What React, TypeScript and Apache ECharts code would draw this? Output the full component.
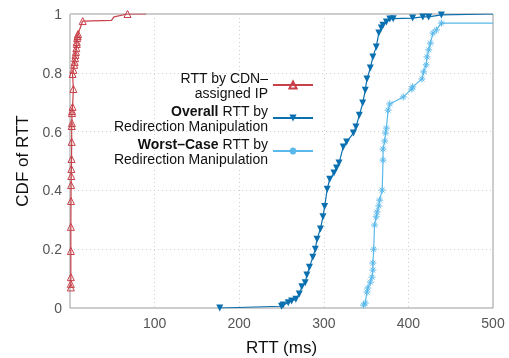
import React, { useEffect, useRef } from "react";
import * as echarts from "echarts";

// [RTT ms, CDF, hasMarker]
const cdnX = [1, 1, 1, 1, 1, 1.2, 1.3, 1.5, 1.6, 1.8, 2, 2, 2.2, 2.3, 2.5, 3, 4, 3, 4, 5, 5.5, 6, 6.5, 7, 7.5, 8, 8, 8.5, 9, 9.5, 15, 49, 52, 68, 90];
const cdnY = [0.07, 0.082, 0.105, 0.194, 0.276, 0.364, 0.418, 0.449, 0.473, 0.507, 0.565, 0.619, 0.629, 0.663, 0.67, 0.684, 0.745, 0.796, 0.81, 0.827, 0.837, 0.85, 0.861, 0.871, 0.884, 0.898, 0.905, 0.918, 0.925, 0.932, 0.976, 0.978, 0.99, 1.0, 1.0];
const cdnMark = [1, 1, 1, 1, 1, 1, 1, 1, 1, 1, 1, 1, 1, 1, 1, 1, 1, 1, 1, 1, 1, 1, 1, 1, 1, 1, 1, 1, 1, 1, 1, 0, 0, 1, 0];

const overallX = [177, 250, 252, 258, 262, 267, 271, 274, 278, 280, 283, 287, 290, 292, 296, 299, 301, 304, 307, 312, 315, 318, 323, 327, 335, 338, 342, 346, 349, 351, 355, 358, 362, 365, 368, 370, 374, 378, 382, 405, 417, 424, 439, 500];
const overallY = [0, 0.006, 0.01, 0.018, 0.024, 0.03, 0.048, 0.072, 0.086, 0.112, 0.139, 0.173, 0.2, 0.234, 0.269, 0.31, 0.345, 0.404, 0.438, 0.459, 0.476, 0.493, 0.548, 0.565, 0.595, 0.616, 0.656, 0.697, 0.741, 0.779, 0.816, 0.854, 0.888, 0.935, 0.952, 0.962, 0.973, 0.983, 0.984, 0.986, 0.99, 0.99, 0.997, 1.0];
const overallMark = [1, 1, 1, 1, 1, 1, 1, 1, 1, 1, 1, 1, 1, 1, 1, 1, 1, 1, 1, 1, 1, 1, 1, 1, 1, 1, 1, 1, 1, 1, 1, 1, 1, 1, 1, 1, 1, 1, 1, 1, 1, 1, 1, 0];

const worstX = [347, 349, 351, 352, 355, 357, 358, 358, 359, 360, 362, 363, 365, 366, 369, 370, 370, 372, 373, 374, 376, 378, 394, 404, 405, 416, 418, 421, 422, 424, 426, 429, 433, 439, 500];
const worstY = [0.01, 0.017, 0.054, 0.068, 0.088, 0.105, 0.129, 0.153, 0.2, 0.282, 0.31, 0.327, 0.347, 0.367, 0.401, 0.503, 0.541, 0.568, 0.595, 0.612, 0.673, 0.694, 0.718, 0.745, 0.752, 0.779, 0.803, 0.827, 0.854, 0.878, 0.901, 0.935, 0.946, 0.969, 0.969];
const worstMark = [1, 1, 1, 1, 1, 1, 1, 1, 1, 1, 1, 1, 1, 1, 1, 1, 1, 1, 1, 1, 1, 1, 1, 1, 1, 1, 1, 1, 1, 1, 1, 1, 1, 1, 0];

const RED = "#c8414a";
const DARK = "#0b70b0";
const LIGHT = "#5ab8ea";
const FONT = "Liberation Sans, Arial, sans-serif";

const ASTERISK = "path://M0,5L10,5M5,0L5,10M1.5,1.5L8.5,8.5M8.5,1.5L1.5,8.5";

function build(xs: number[], ys: number[], marks: number[]) {
  return xs.map((x, i) =>
    marks[i] ? { value: [x, ys[i]] } : { value: [x, ys[i]], symbol: "none" }
  );
}

export default function App() {
  const ref = useRef<HTMLDivElement>(null);
  useEffect(() => {
    if (!ref.current) return;
    const chart = echarts.init(ref.current, null, { renderer: "svg" });
    chart.setOption({
      animation: false,
      textStyle: { fontFamily: FONT },
      grid: {
        left: 70,
        right: 16,
        top: 14,
        bottom: 50,
        outerBoundsMode: "none",
        containLabel: false,
        show: true,
        borderColor: "#9a9a9a",
        borderWidth: 1,
      },
      legend: {
        orient: "vertical",
        right: 195,
        top: 70,
        align: "right",
        padding: 0,
        itemWidth: 40,
        itemHeight: 9,
        itemGap: 3,
        textStyle: {
          fontFamily: FONT,
          fontSize: 14,
          color: "#111",
          lineHeight: 15,
          rich: {
            b: { fontWeight: "bold", fontSize: 14, color: "#111", fontFamily: FONT, lineHeight: 15 },
          },
        },
        formatter: (name: string) => {
          if (name === "cdn") return "RTT by CDN–\nassigned IP";
          if (name === "overall") return "{b|Overall} RTT by\nRedirection Manipulation";
          return "{b|Worst–Case} RTT by\nRedirection Manipulation";
        },
        data: ["cdn", "overall", "worst"],
      },
      xAxis: {
        type: "value",
        min: 0,
        max: 500,
        interval: 100,
        name: "RTT (ms)",
        nameLocation: "middle",
        nameGap: 31,
        nameTextStyle: { fontSize: 17, color: "#111", fontFamily: FONT },
        axisLine: { show: false },
        axisTick: { show: false },
        axisLabel: {
          fontSize: 14,
          color: "#555",
          margin: 8,
          formatter: (v: number) => (v === 0 ? "" : String(v)),
        },
        splitLine: { show: true, lineStyle: { type: [1, 3], color: "#cfcfcf" } },
      },
      yAxis: {
        type: "value",
        min: 0,
        max: 1,
        interval: 0.2,
        name: "CDF of RTT",
        nameLocation: "middle",
        nameGap: 39,
        nameTextStyle: { fontSize: 17, color: "#111", fontFamily: FONT },
        axisLine: { show: false },
        axisTick: { show: false },
        axisLabel: {
          fontSize: 14,
          color: "#555",
          margin: 8,
          formatter: (v: number) => String(Math.round(v * 10) / 10),
        },
        splitLine: { show: true, lineStyle: { type: [1, 3], color: "#cfcfcf" } },
      },
      series: [
        {
          name: "cdn",
          type: "line",
          data: build(cdnX, cdnY, cdnMark),
          color: RED,
          symbol: "triangle",
          symbolSize: 7,
          showAllSymbol: true,
          lineStyle: { color: RED, width: 1.2 },
          itemStyle: { color: "rgba(255,255,255,0)", borderColor: RED, borderWidth: 1 },
          z: 3,
        },
        {
          name: "overall",
          type: "line",
          data: build(overallX, overallY, overallMark),
          color: DARK,
          symbol: "triangle",
          symbolRotate: 180,
          symbolSize: 7,
          showAllSymbol: true,
          lineStyle: { color: DARK, width: 1.2 },
          itemStyle: { color: DARK, borderColor: DARK, borderWidth: 0 },
          z: 2,
        },
        {
          name: "worst",
          type: "line",
          data: build(worstX, worstY, worstMark),
          color: LIGHT,
          symbol: ASTERISK,
          symbolSize: 7,
          showAllSymbol: true,
          lineStyle: { color: LIGHT, width: 1.2 },
          itemStyle: { color: LIGHT, borderColor: LIGHT, borderWidth: 1 },
          z: 1,
        },
      ],
    });
    return () => chart.dispose();
  }, []);
  return (
    <div
      ref={ref}
      style={{ position: "fixed", left: 0, top: 0, width: 509, height: 358 }}
    />
  );
}
